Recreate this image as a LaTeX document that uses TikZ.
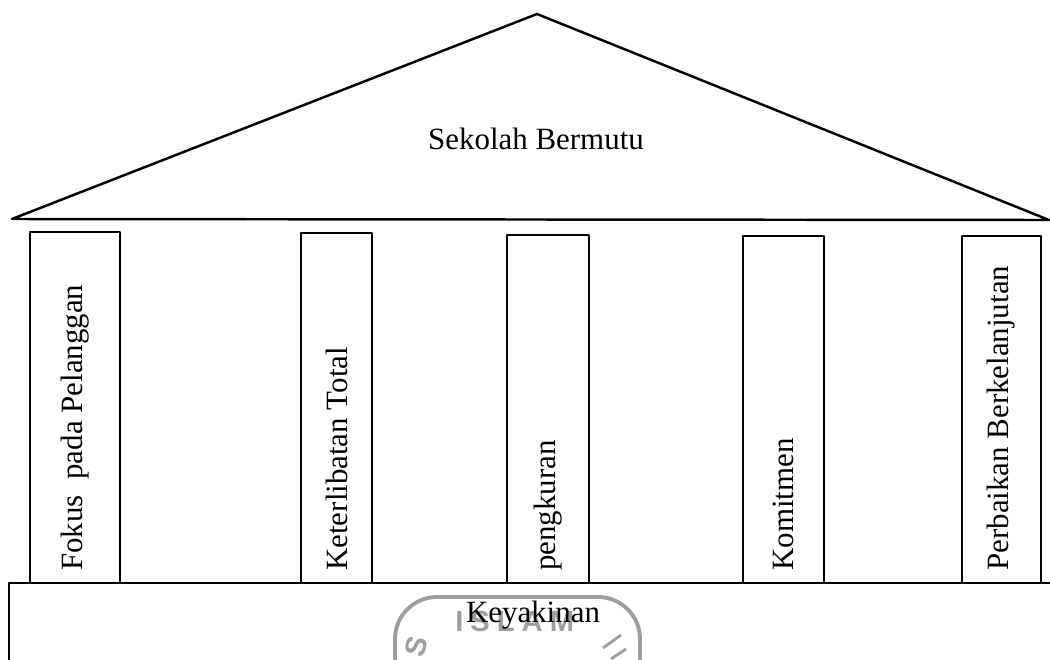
\documentclass[tikz,border=0pt]{standalone}
\usepackage{fontspec}
\setmainfont{Liberation Serif}
\newfontfamily\markfont[LetterSpace=24]{Liberation Sans}
\usetikzlibrary{calc}
\newcommand{\linecolor}{black}
\newcommand{\thickness}{1.4pt}
\newcommand{\markcolor}{black!38}

\begin{document}
\begin{tikzpicture}[x=0.02cm,y=-0.02cm,line join=round,
  wall/.style={draw=\linecolor,line width=\thickness},
  captext/.style={font=\fontsize{17.6}{20}\selectfont,inner sep=0pt},
  pillartext/.style={captext,rotate=90,anchor=west},
  stamp/.style={draw=\markcolor,line width=2.2pt},
  stamptext/.style={font=\markfont\bfseries\fontsize{16.6}{17}\selectfont,text=\markcolor,inner sep=0pt}]
\useasboundingbox (0,0) rectangle (1050,659);
\clip (0,0) rectangle (1050,659);
%roof
\coordinate (roofL) at (12,219);
\coordinate (roofT) at (537,14);
\coordinate (roofR) at (1049,220);
\draw[wall] (roofL) -- (roofT) -- (roofR) -- cycle;
\node[captext] (roof) at (536,139) {Sekolah Bermutu};
%base
\coordinate (baseL) at (9,583);
\coordinate (baseB) at (9,680);
\coordinate (baseR) at (1070,583);
\draw[wall] (baseB) -- (baseL) -- (baseR);
%watermark
\coordinate (stampL) at (395,680);
\coordinate (stampR) at (640,680);
\draw[stamp] (stampL) -- (395,639) arc (180:270:42) -- (598,597) arc (-90:0:42) -- (stampR);
\node[stamptext,anchor=base west] (mark) at (455,631) {ISLAM};
\node[stamptext,rotate=75] (markS) at (416,646) {S};
\draw[stamp,line width=1.6pt] (603,648) -- (621,635);
\draw[stamp,line width=1.6pt] (611,659) -- (626,649);
\node[captext] (base) at (533,622) [anchor=base] {Keyakinan};
%pillars
\foreach \i/\xa/\xb/\yb/\txt in {1/30/120/232/{Fokus\ \ pada Pelanggan},
                                 2/301/372/233/{Keterlibatan Total},
                                 3/507/589/235/{pengkuran},
                                 4/743/824/236/{Komitmen},
                                 5/962/1041/236/{Perbaikan Berkelanjutan}} {
  \coordinate (p\i a) at (\xa,583);
  \coordinate (p\i b) at (\xb,\yb);
  \draw[wall] (p\i a) rectangle (p\i b);
  \node[pillartext] (t\i) at ($(p\i a)!0.5!(p\i b|-p\i a)+(0,-12)$) {\txt};
}
\end{tikzpicture}
\end{document}
